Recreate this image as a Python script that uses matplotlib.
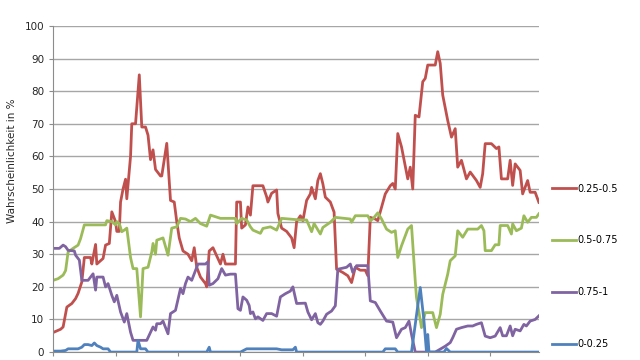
import matplotlib.pyplot as plt
from matplotlib.ticker import MultipleLocator

# series (x = sample index, y = probability in %)
x_red = [0, 6, 8, 11, 15, 18, 20, 23, 25, 30, 31, 34, 35, 40, 42, 45, 47, 50, 51, 53,
         54, 56, 58, 59, 62, 63, 66, 69, 71, 74, 76, 78, 80, 82, 86, 87, 91, 94, 97, 99,
         101, 104, 108, 111, 113, 115, 118, 122, 123, 125, 128, 134, 136, 138, 146, 147, 150, 151, 154, 156,
         158, 160, 168, 171, 172, 175, 179, 180, 183, 187, 191, 193, 195, 198, 200, 203, 206, 207, 210, 212,
         214, 216, 218, 222, 225, 227, 232, 236, 239, 242, 246, 250, 252, 254, 258, 260, 263, 266, 270, 272,
         274, 276, 279, 284, 286, 288, 290, 293, 296, 298, 300, 306, 308, 310, 312, 316, 319, 322, 324, 327,
         331, 334, 339, 342, 344, 346, 351, 355, 357, 359, 364, 366, 368, 370, 374, 376, 380, 382, 386, 389]
y_red = [6, 7, 7.7, 13.8, 14.9, 16.4, 18, 21.5, 29, 29, 27, 33, 27, 28.7, 32.8, 33.3, 43, 40, 37, 37,
         46, 50, 53, 47, 60, 70, 70, 85, 69, 69, 66.5, 59, 62, 56, 54, 54, 64, 46.5, 46, 40,
         35, 31, 30, 28, 32, 26, 23, 21, 20, 31, 32, 27, 30, 27, 27, 46, 46, 38, 39, 44.5,
         42, 51, 51, 47.6, 46, 48.7, 49.7, 42.5, 38, 37, 35, 32, 40, 41.8, 40.3, 46.5, 48.5, 50.5, 47, 52.6,
         54.7, 51.6, 47.5, 46, 42.9, 25.4, 24.4, 23.4, 21.3, 26, 25.1, 25.1, 23.4, 41.3, 40.8, 40.3, 44.4, 48.5, 51, 51.7,
         50, 67, 62.9, 53.1, 56.7, 50, 72.6, 72.1, 82.9, 83.9, 88, 88, 92.1, 88.5, 78.8, 71, 65.9, 68.5, 56.7, 58.8,
         53.1, 55.2, 52.6, 50.5, 54.7, 63.9, 63.9, 62.4, 62.9, 53.1, 53.1, 58.8, 51.1, 57.7, 55.7, 48.5, 52.6, 49, 49, 45.9]

x_green = [0, 4, 8, 10, 12, 16, 20, 22, 25, 42, 43, 47, 50, 51, 53, 55, 57, 59, 62, 64,
           67, 70, 72, 76, 79, 80, 82, 83, 88, 92, 95, 99, 102, 106, 110, 114, 118, 123, 126, 130,
           134, 146, 147, 151, 155, 158, 160, 166, 168, 174, 179, 183, 198, 203, 207, 209, 214, 216, 222, 226,
           238, 239, 242, 252, 254, 256, 260, 263, 267, 271, 274, 276, 279, 284, 287, 290, 291, 295, 298, 304,
           307, 310, 312, 316, 318, 322, 324, 328, 332, 340, 343, 345, 346, 351, 354, 357, 358, 364, 367, 368,
           371, 375, 377, 380, 383, 387, 389]
y_green = [22, 22.5, 23.6, 25, 30.7, 31.8, 32.8, 34.8, 39, 39, 40.3, 40, 39, 40, 39.4, 36.9, 37.4, 38, 29, 25.6,
           25.6, 10.8, 25.6, 26, 30.7, 33.3, 30, 34.3, 35, 29.7, 38, 38.4, 41, 40.8, 40, 41, 39.4, 38.6, 42, 41.5,
           41, 41, 39.4, 41, 40.5, 38.4, 37.4, 36.4, 37.9, 38.4, 37.4, 41, 40.5, 40.5, 36.9, 39.4, 36.2, 38.2, 39.8, 41.3,
           40.8, 39.8, 41.8, 41.8, 40.3, 40.8, 42.7, 40.8, 37.7, 36.7, 37.2, 29, 32.6, 37.7, 38.8, 21.8, 16.7, 7.5, 12.1, 12.1,
           7.5, 11.6, 17.7, 23.9, 28, 29.5, 37.2, 35.2, 37.7, 37.7, 38.8, 37.2, 31.1, 31.1, 32.9, 32.9, 38.8, 38.8, 36.2, 39.3,
           37.2, 38, 41.8, 39.8, 41.3, 41.3, 42.4]

x_purple = [0, 5, 8, 10, 12, 17, 18, 21, 23, 28, 32, 34, 35, 40, 42, 44, 47, 49, 51, 54,
            57, 59, 62, 64, 75, 80, 82, 83, 86, 88, 92, 94, 98, 102, 104, 106, 108, 111, 114, 116,
            122, 124, 125, 128, 132, 135, 138, 142, 146, 148, 150, 152, 155, 157, 158, 160, 162, 164, 168, 171,
            175, 179, 182, 186, 190, 192, 195, 202, 204, 207, 210, 212, 214, 216, 219, 223, 226, 228, 235, 238,
            240, 243, 252, 254, 258, 262, 267, 272, 275, 279, 282, 285, 287, 290, 306, 314, 318, 320, 323, 327,
            332, 336, 339, 343, 346, 350, 354, 358, 360, 363, 366, 368, 370, 374, 377, 379, 382, 386, 389]
y_purple = [31.8, 31.8, 32.8, 32.3, 31.2, 31, 29.7, 28.2, 22, 22, 24, 19, 23, 23, 20, 21, 17.4, 15.4, 17.4, 12.3,
            9.2, 11.8, 6.1, 3.6, 3.6, 7.7, 6.7, 8.7, 8.7, 9.5, 5.6, 11.8, 12.8, 19.5, 17.9, 21, 23, 22, 25, 27,
            27, 27.7, 20.5, 21, 22.5, 25.6, 23.6, 23.9, 23.9, 13.3, 12.8, 16.9, 15.9, 14.3, 11.8, 12.3, 10.2, 10.8, 9.7, 11.8,
            11.8, 11, 16.9, 17.9, 18.7, 20, 14.9, 15, 12.3, 9.9, 11.8, 9, 8.5, 9.5, 11.6, 12.6, 14.2, 25.4, 26, 27,
            24.4, 26.5, 26.5, 15.7, 15.2, 12.6, 9.5, 9.2, 4.4, 7, 7.5, 9.5, 5.4, 0, 0, 1.8, 2.9, 4.4, 7, 7.5,
            8, 8, 8.5, 9, 4.9, 4.4, 4.9, 7.5, 5, 5, 8, 5, 7, 6.5, 8.5, 8, 9.5, 10, 11.1]

x_blue = [0, 6, 10, 12, 20, 23, 25, 28, 31, 33, 35, 38, 40, 44, 46, 67, 68, 70, 74, 76,
          123, 125, 126, 150, 155, 179, 183, 192, 194, 195, 264, 266, 274, 276, 287, 294, 297, 299, 300, 301,
          313, 315, 318, 389]
y_blue = [0.3, 0.3, 0.5, 1, 1, 1.5, 2.3, 2.3, 2, 2.8, 2, 1.5, 1, 1, 0, 0, 3.6, 1, 1, 0,
          0, 1.5, 0, 0, 1, 1, 0.7, 0.7, 1.5, 0, 0, 1, 1, 0, 0, 19.8, 9.5, 0, 5.4, 0,
          0, 1.1, 0, 0]

fig = plt.figure(figsize=(6.4, 3.6), dpi=100)
ax = fig.add_axes([0.083, 0.022, 0.759, 0.906])

lw = 2.0
ax.plot(x_red, y_red, color='#C0504D', lw=lw, label='0.25-0.5')
ax.plot(x_green, y_green, color='#9BBB59', lw=lw, label='0.5-0.75')
ax.plot(x_purple, y_purple, color='#8064A2', lw=lw, label='0.75-1')
ax.plot(x_blue, y_blue, color='#4F81BD', lw=lw, label='0-0.25')

ax.set_xlim(0, 389)
ax.set_ylim(0, 100)
ax.yaxis.set_major_locator(MultipleLocator(10))
ax.xaxis.set_major_locator(MultipleLocator(50))
ax.set_xticklabels([])
ax.grid(axis='y', color='#a6a6a6', lw=1)
ax.set_axisbelow(True)
for s in ['top', 'right']:
    ax.spines[s].set_visible(False)
for s in ['left', 'bottom']:
    ax.spines[s].set_color('#8c8c8c')
ax.tick_params(axis='both', colors='#8c8c8c', length=3, labelsize=7.5, labelcolor='#262626')

fig.text(0.019, 0.553, 'Wahrscheinlichkeit in %', rotation=90, ha='center', va='center',
         fontsize=7.5, color='#262626')

ax.legend(loc='center left', bbox_to_anchor=(1.01, 0.263), frameon=False, fontsize=7,
          handlelength=2.4, handletextpad=0.2, labelspacing=4.3)

fig.savefig('out.png', dpi=100)
